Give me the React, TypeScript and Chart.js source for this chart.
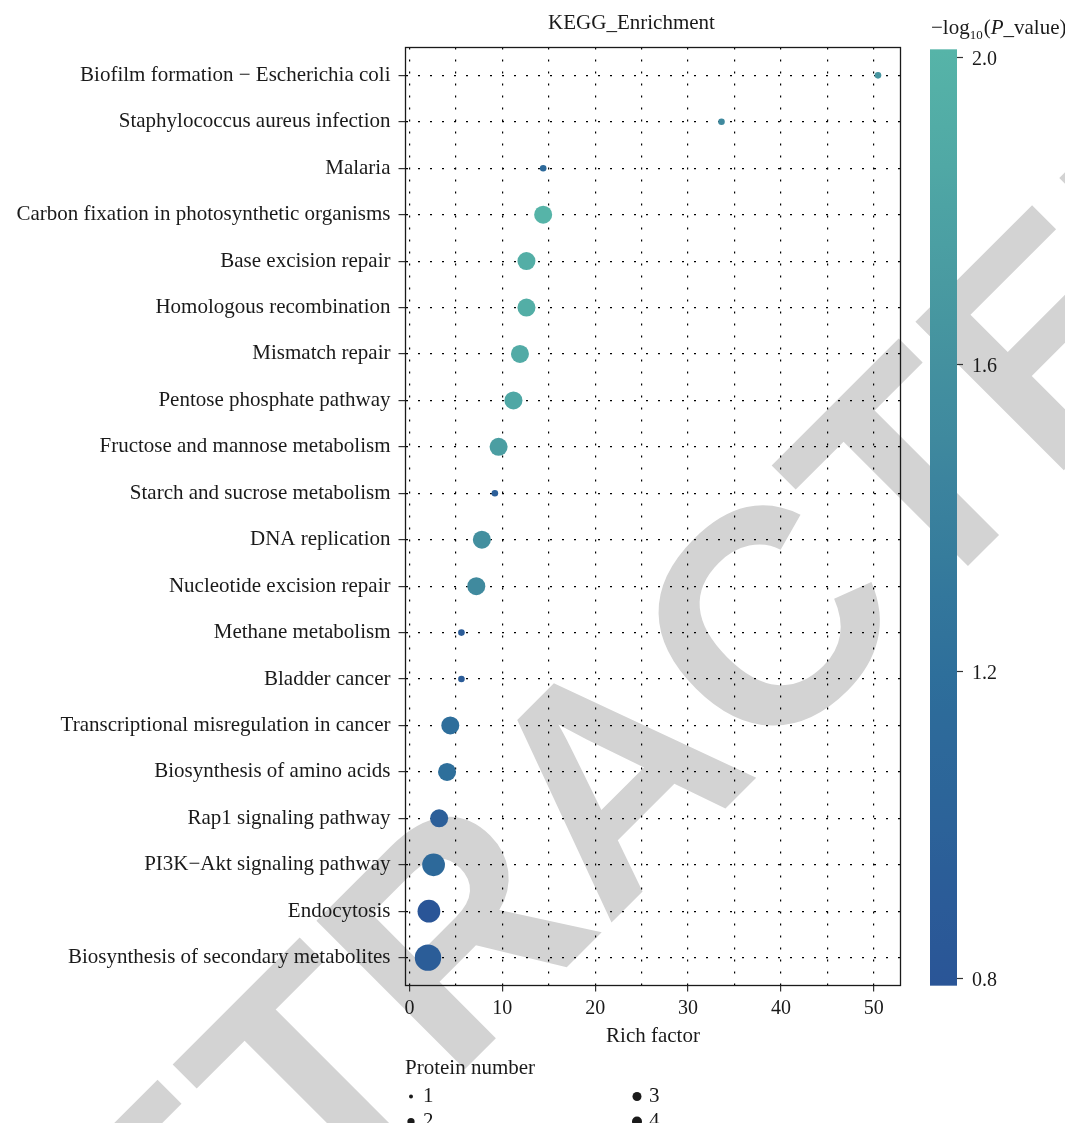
import React, { useEffect, useRef } from 'react';
import { Chart, registerables } from 'chart.js';

Chart.register(...registerables);

// ---------------- data ----------------
const categories = [
  'Biofilm formation − Escherichia coli',
  'Staphylococcus aureus infection',
  'Malaria',
  'Carbon fixation in photosynthetic organisms',
  'Base excision repair',
  'Homologous recombination',
  'Mismatch repair',
  'Pentose phosphate pathway',
  'Fructose and mannose metabolism',
  'Starch and sucrose metabolism',
  'DNA replication',
  'Nucleotide excision repair',
  'Methane metabolism',
  'Bladder cancer',
  'Transcriptional misregulation in cancer',
  'Biosynthesis of amino acids',
  'Rap1 signaling pathway',
  'PI3K−Akt signaling pathway',
  'Endocytosis',
  'Biosynthesis of secondary metabolites',
];

const richFactor = [
  50.45, 33.6, 14.4, 14.4, 12.6, 12.6, 11.9, 11.2, 9.6, 9.2,
  7.8, 7.2, 5.6, 5.6, 4.4, 4.05, 3.2, 2.6, 2.1, 2.0,
];

const proteinNumber = [1, 1, 1, 2, 2, 2, 2, 2, 2, 1, 2, 2, 1, 1, 2, 2, 2, 3, 3, 4];

const negLog10P = [
  1.65, 1.5, 1.1, 2.01, 1.93, 1.93, 1.9, 1.85, 1.75, 0.95,
  1.58, 1.52, 0.9, 0.9, 1.18, 1.2, 0.95, 1.1, 0.79, 0.92,
];

const xGridValues = [0, 5, 10, 15, 20, 25, 30, 35, 40, 45, 50];
const xLabelStep = 10;
const colorTicks = [0.8, 1.2, 1.6, 2.0];
const legendValues = [1, 2, 3, 4];

// ---------------- styles ----------------
const SERIF = '"Liberation Serif", "Times New Roman", serif';
const TEXT = '#1a1a1a';
const colorStops: [number, string][] = [
  [0.8, '#2a5597'],
  [1.2, '#2e6f9b'],
  [1.6, '#44919f'],
  [2.0, '#56b4a8'],
];

function hexToRgb(h: string) {
  const n = parseInt(h.slice(1), 16);
  return [(n >> 16) & 255, (n >> 8) & 255, n & 255];
}
function colorFor(v: number) {
  if (v <= colorStops[0][0]) return colorStops[0][1];
  const last = colorStops[colorStops.length - 1];
  if (v >= last[0]) return last[1];
  for (let i = 0; i < colorStops.length - 1; i++) {
    const [a, ca] = colorStops[i];
    const [b, cb] = colorStops[i + 1];
    if (v >= a && v <= b) {
      const t = (v - a) / (b - a);
      const A = hexToRgb(ca), B = hexToRgb(cb);
      const c = A.map((x, k) => Math.round(x + (B[k] - x) * t));
      return `rgb(${c[0]},${c[1]},${c[2]})`;
    }
  }
  return last[1];
}

const nMin = Math.min(...proteinNumber);
const nMax = Math.max(...proteinNumber);
function radiusFor(n: number) {
  const t = nMax === nMin ? 1 : (n - nMin) / (nMax - nMin);
  return 3.3 * (1 + 3 * Math.sqrt(t));
}

const xMinData = Math.min(...richFactor);
const xMaxData = Math.max(...richFactor);
const xPad = (xMaxData - xMinData) * 0.05;

const CHART_LEFT = 405.5;
const CHART_RIGHT = 900.5;
const CHART_TOP = 47.5;
const CHART_BOTTOM = 985.5;
const W = 1065;
const H = 1123;
const X_AXIS_H = 68;

const decorPlugin = {
  id: 'decor',
  beforeDraw(chart: any) {
    const ctx = chart.ctx as CanvasRenderingContext2D;
    ctx.save();
    ctx.fillStyle = '#ffffff';
    ctx.fillRect(0, 0, chart.width, chart.height);
    // watermark
    ctx.translate(684, 850);
    ctx.rotate(-Math.PI / 4);
    ctx.font = `bold 305px "Liberation Sans", Arial, sans-serif`;
    ctx.fillStyle = '#d3d3d3';
    ctx.textAlign = 'center';
    ctx.textBaseline = 'alphabetic';
    ctx.fillText('RETRACTED', 0, 0);
    ctx.restore();
  },
  afterDraw(chart: any) {
    const ctx = chart.ctx as CanvasRenderingContext2D;
    const a = chart.chartArea;
    ctx.save();
    // panel border
    ctx.strokeStyle = TEXT;
    ctx.lineWidth = 1.3;
    ctx.setLineDash([]);
    ctx.strokeRect(a.left, a.top, a.right - a.left, a.bottom - a.top);

    // title
    ctx.fillStyle = TEXT;
    ctx.font = `21px ${SERIF}`;
    ctx.textAlign = 'center';
    ctx.textBaseline = 'alphabetic';
    ctx.fillText('KEGG_Enrichment', 631.5, 29);

    // colorbar
    const y20 = 57, y08 = 978;
    const yOf = (v: number) => y20 + ((2.0 - v) * (y08 - y20)) / 1.2;
    const pMin = Math.min(...negLog10P), pMax = Math.max(...negLog10P);
    const barTop = yOf(pMax), barBot = yOf(pMin);
    const barX = 930, barW = 27;
    const grad = ctx.createLinearGradient(0, barTop, 0, barBot);
    const steps = 24;
    for (let i = 0; i <= steps; i++) {
      const v = pMax - ((pMax - pMin) * i) / steps;
      grad.addColorStop(i / steps, colorFor(v));
    }
    ctx.fillStyle = grad;
    ctx.fillRect(barX, barTop, barW, barBot - barTop);
    ctx.strokeStyle = '#333';
    ctx.lineWidth = 1.2;
    ctx.fillStyle = TEXT;
    ctx.font = `20px ${SERIF}`;
    ctx.textAlign = 'left';
    for (const t of colorTicks) {
      const y = Math.round(yOf(t)) + 0.5;
      ctx.beginPath();
      ctx.moveTo(barX + barW, y);
      ctx.lineTo(barX + barW + 6, y);
      ctx.stroke();
      ctx.fillText(t.toFixed(1), 972, y + 7);
    }

    // colorbar title: −log10(P_value)
    let cx = 931;
    const base = 33.5;
    ctx.textAlign = 'left';
    ctx.font = `21px ${SERIF}`;
    ctx.fillText('−log', cx, base);
    cx += ctx.measureText('−log').width;
    ctx.font = `13px ${SERIF}`;
    ctx.fillText('10', cx, base + 5);
    cx += ctx.measureText('10').width + 1;
    ctx.font = `21px ${SERIF}`;
    ctx.fillText('(', cx, base);
    cx += ctx.measureText('(').width;
    ctx.font = `italic 21px ${SERIF}`;
    ctx.fillText('P', cx, base);
    cx += ctx.measureText('P').width;
    ctx.font = `21px ${SERIF}`;
    ctx.fillText('_value)', cx, base);

    // size legend
    ctx.font = `21px ${SERIF}`;
    ctx.fillText('Protein number', 405, 1074);
    const legR = [2, 3.6, 4.5, 5];
    const colX = [411, 637];
    const rowY = [1096.5, 1121.5];
    legendValues.forEach((v, i) => {
      const col = Math.floor(i / 2), row = i % 2;
      const x = colX[col], y = rowY[row];
      ctx.fillStyle = TEXT;
      ctx.beginPath();
      ctx.arc(x, y, legR[i], 0, Math.PI * 2);
      ctx.fill();
      ctx.fillText(String(v), x + 12, y + 5.5);
    });
    ctx.restore();
  },
};

export default function App() {
  const ref = useRef<HTMLCanvasElement | null>(null);
  useEffect(() => {
    if (!ref.current) return;
    const chart = new Chart(ref.current, {
      type: 'bubble',
      data: {
        datasets: [
          {
            data: categories.map((c, i) => ({ x: richFactor[i], y: i, r: radiusFor(proteinNumber[i]) })),
            backgroundColor: negLog10P.map(colorFor),
            borderWidth: 0,
            hoverRadius: 0,
          } as any,
        ],
      },
      options: {
        responsive: false,
        animation: false,
        events: [],
        layout: {
          padding: {
            left: 0,
            right: W - CHART_RIGHT,
            top: CHART_TOP,
            bottom: H - CHART_BOTTOM - X_AXIS_H,
          },
        },
        plugins: {
          legend: { display: false },
          tooltip: { enabled: false },
          title: { display: false },
        },
        scales: {
          x: {
            type: 'linear',
            min: xMinData - xPad,
            max: xMaxData + xPad,
            afterBuildTicks: (s: any) => {
              s.ticks = xGridValues.map((v) => ({ value: v }));
            },
            afterFit: (s: any) => {
              s.height = X_AXIS_H;
            },
            ticks: {
              autoSkip: false,
              maxRotation: 0,
              padding: 5,
              color: TEXT,
              font: { family: SERIF, size: 20 },
              callback: (v: any) => (Number(v) % xLabelStep === 0 ? String(v) : ''),
            },
            grid: {
              color: '#000',
              lineWidth: 1.2,
              drawTicks: true,
              tickLength: 6,
              tickWidth: 1.2,
              tickBorderDash: [],
              tickColor: (c: any) =>
                c.tick && c.tick.value % xLabelStep === 0 ? '#333' : 'rgba(0,0,0,0)',
            },
            border: { display: false, dash: [2, 10] },
            title: {
              display: true,
              text: 'Rich factor',
              color: TEXT,
              font: { family: SERIF, size: 21 },
              padding: { top: 4, bottom: 4 },
            },
          },
          y: {
            type: 'linear',
            reverse: true,
            min: -0.6,
            max: categories.length - 1 + 0.6,
            afterBuildTicks: (s: any) => {
              s.ticks = categories.map((_, i) => ({ value: i }));
            },
            afterFit: (s: any) => {
              s.width = CHART_LEFT;
            },
            ticks: {
              autoSkip: false,
              padding: 8,
              color: TEXT,
              font: { family: SERIF, size: 21 },
              callback: (v: any) => categories[Number(v)] ?? '',
            },
            grid: {
              color: '#000',
              lineWidth: 1.2,
              drawTicks: true,
              tickLength: 7,
              tickWidth: 1.2,
              tickBorderDash: [],
              tickColor: '#333',
            },
            border: { display: false, dash: [2, 10] },
          },
        },
      } as any,
      plugins: [decorPlugin],
    });
    return () => chart.destroy();
  }, []);

  return (
    <div style={{ position: 'absolute', left: 0, top: 0, width: W, height: H, background: '#fff' }}>
      <canvas ref={ref} width={W} height={H} style={{ display: 'block', width: W, height: H }} />
    </div>
  );
}
